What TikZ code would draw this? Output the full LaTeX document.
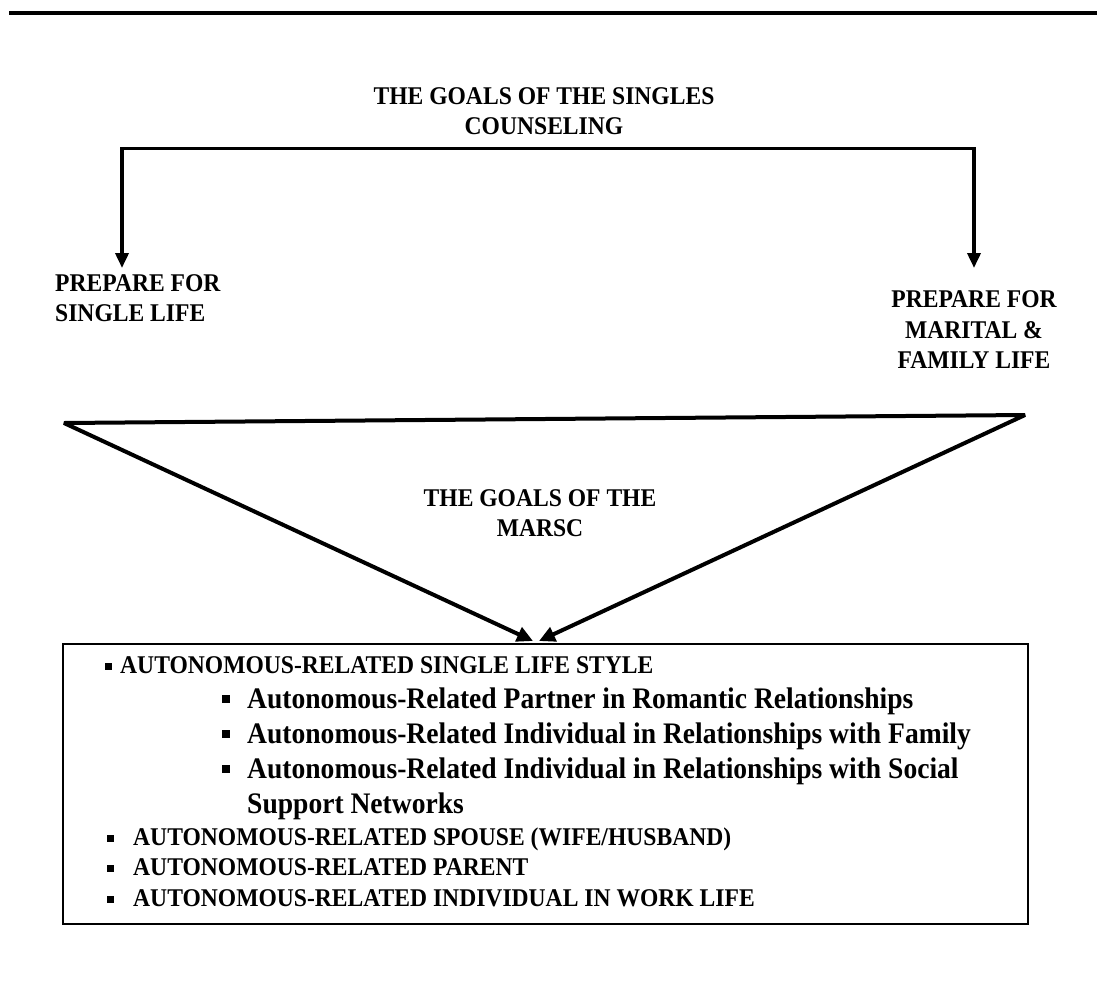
\documentclass[tikz,border=0pt]{standalone}
\usepackage{fontspec}
\setmainfont{Liberation Serif}[FakeStretch=0.925]
\usetikzlibrary{arrows.meta}
\begin{document}
\begin{tikzpicture}[x=1pt,y=-1pt,
  hd/.style={font=\fontsize{25.5}{30}\selectfont\bfseries, inner sep=0pt, align=center},
  capline/.style={font=\fontsize{25.5}{30}\selectfont\bfseries, inner sep=0pt, anchor=base west},
  subline/.style={font=\fontsize{29.8}{35}\selectfont\bfseries, inner sep=0pt, anchor=base west},
  bul/.style={fill=black, inner sep=0pt, minimum size=7pt},
  bigbul/.style={fill=black, inner sep=0pt, minimum size=8pt},
  thick line/.style={line width=3.6pt, line join=miter},
  twoarr/.style={thick line, {Triangle[length=15pt,width=13pt]}-{Triangle[length=15pt,width=13pt]}}
]
\useasboundingbox (0,0) rectangle (1097,996);

% top rule
\coordinate (ruleL) at (9,12.7);
\coordinate (ruleR) at (1097,12.7);
\draw[line width=4pt] (ruleL) -- (ruleR);

% headings
\node[hd, anchor=north] (title) at (544,87.5) {THE GOALS OF THE SINGLES\\COUNSELING};
\node[hd, anchor=north west, align=left] (single) at (55,274.5) {PREPARE FOR\\SINGLE LIFE};
\node[hd, anchor=north, font=\fontsize{25.5}{30.5}\selectfont\bfseries] (marital) at (974,290.5) {PREPARE FOR\\MARITAL \&\\FAMILY LIFE};
\node[hd, anchor=north] (marsc) at (540,489.5) {THE GOALS OF THE\\MARSC};

% bracket with two arrows
\coordinate (brL) at (122,148.5);
\coordinate (brR) at (974,148.5);
\coordinate (tipL) at (122,268);
\coordinate (tipR) at (974,268);
\draw[twoarr] (tipL) -- (brL) -- (brR) -- (tipR);

% funnel
\coordinate (triL) at (64,423);
\coordinate (triR) at (1025,415);
\coordinate (tipA) at (533,641);
\coordinate (tipB) at (539,641);
\draw[twoarr, line width=4pt, line join=bevel, {Triangle[length=16pt,width=15pt]}-{Triangle[length=16pt,width=15pt]}] (tipA) -- (triL) -- (triR) -- (tipB);

% box
\node[draw, line width=2pt, minimum width=965pt, minimum height=280pt, inner sep=0pt, anchor=north west] (box) at (62,643) {};

% box content
\node[bul] (b0) at (108.5,666) {};
\node[capline] (l0) at (120,673) {AUTONOMOUS-RELATED SINGLE LIFE STYLE};

\node[bigbul] (s1b) at (226,698.5) {};
\node[subline] (s1) at (247,708) {Autonomous-Related Partner in Romantic Relationships};
\node[bigbul] (s2b) at (226,733.5) {};
\node[subline] (s2) at (247,743) {Autonomous-Related Individual in Relationships with Family};
\node[bigbul] (s3b) at (226,768.5) {};
\node[subline] (s3) at (247,778) {Autonomous-Related Individual in Relationships with Social};
\node[subline] (s3c) at (247,813) {Support Networks};

\node[bul] (b1b) at (110,838) {};
\node[capline] (b1) at (133,845) {AUTONOMOUS-RELATED SPOUSE (WIFE/HUSBAND)};
\node[bul] (b2b) at (110,868) {};
\node[capline] (b2) at (133,875) {AUTONOMOUS-RELATED PARENT};
\node[bul] (b3b) at (110,899) {};
\node[capline] (b3) at (133,906) {AUTONOMOUS-RELATED INDIVIDUAL IN WORK LIFE};
\end{tikzpicture}
\end{document}
